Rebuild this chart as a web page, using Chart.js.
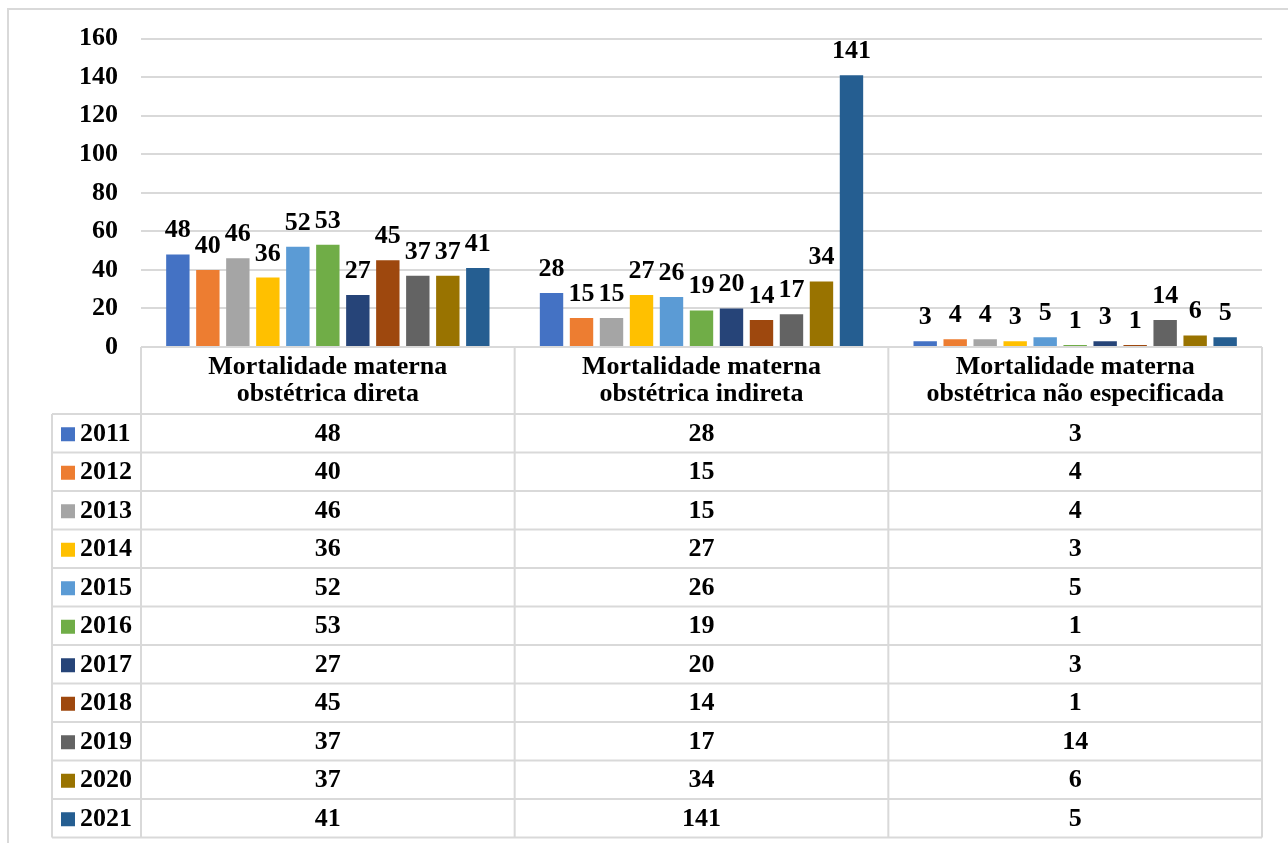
<!DOCTYPE html>
<html>
<head>
<meta charset="utf-8">
<script src="https://cdn.jsdelivr.net/npm/chart.js@4"></script>
<style>
  html, body { margin: 0; padding: 0; background: #fff; }
  canvas { display: block; }
</style>
</head>
<body>
<canvas id="chart" width="1288" height="843"></canvas>
<script>
// Chart values
const categories = [
    ['Mortalidade materna', 'obstétrica direta'],
    ['Mortalidade materna', 'obstétrica indireta'],
    ['Mortalidade materna', 'obstétrica não especificada']
];
const years = ['2011', '2012', '2013', '2014', '2015', '2016', '2017', '2018', '2019', '2020', '2021'];
const direta = [48, 40, 46, 36, 52, 53, 27, 45, 37, 37, 41];
const indireta = [28, 15, 15, 27, 26, 19, 20, 14, 17, 34, 141];
const naoEspecificada = [3, 4, 4, 3, 5, 1, 3, 1, 14, 6, 5];
const yMin = 0, yMax = 160, yStep = 20;
const colors = ['#4472C4', '#ED7D31', '#A5A5A5', '#FFC000', '#5B9BD5', '#70AD47',
                '#264478', '#9E480E', '#636363', '#997300', '#255E91'];

const FONT = 'bold 26px "Liberation Serif", "Times New Roman", serif';
const LINE = '#d9d9d9';

const datasets = years.map((y, i) => ({
    label: y,
    data: [direta[i], indireta[i], naoEspecificada[i]],
    backgroundColor: colors[i],
    borderWidth: 0,
    barPercentage: 0.78,
    categoryPercentage: 0.883
}));

// value labels above each bar
const barLabels = {
    id: 'barLabels',
    afterDatasetsDraw(chart) {
        const ctx = chart.ctx;
        ctx.save();
        ctx.font = FONT;
        ctx.fillStyle = '#000';
        ctx.textAlign = 'center';
        ctx.textBaseline = 'alphabetic';
        chart.data.datasets.forEach((ds, di) => {
            chart.getDatasetMeta(di).data.forEach((bar, i) => {
                ctx.fillText(String(ds.data[i]), bar.x, bar.y - 17);
            });
        });
        ctx.restore();
    }
};

// Excel style data table under the plot
const dataTable = {
    id: 'dataTable',
    afterDraw(chart) {
        const ctx = chart.ctx;
        const area = chart.chartArea;
        const x = chart.scales.x;
        const colW = area.width / categories.length;
        const headTop = area.bottom;
        const headBottom = 414;
        const rowH = 38.5;
        const legendLeft = 52;
        const bottom = headBottom + years.length * rowH;

        ctx.save();
        // outer frame (left & top visible)
        ctx.strokeStyle = LINE;
        ctx.lineWidth = 2;
        ctx.beginPath();
        ctx.moveTo(8, 850);
        ctx.lineTo(8, 9);
        ctx.lineTo(1300, 9);
        ctx.stroke();

        ctx.beginPath();
        // vertical column lines
        for (let c = 0; c <= categories.length; c++) {
            const lx = area.left + c * colW;
            ctx.moveTo(lx, headTop);
            ctx.lineTo(lx, bottom);
        }
        ctx.moveTo(legendLeft, headBottom);
        ctx.lineTo(legendLeft, bottom);
        // horizontal lines
        ctx.moveTo(area.left, headTop);
        ctx.lineTo(area.right, headTop);
        for (let r = 0; r <= years.length; r++) {
            const ly = headBottom + r * rowH;
            ctx.moveTo(legendLeft, ly);
            ctx.lineTo(area.right, ly);
        }
        ctx.stroke();

        ctx.font = FONT;
        ctx.fillStyle = '#000';
        ctx.textBaseline = 'middle';
        ctx.textAlign = 'center';
        const headMid = (headTop + headBottom) / 2;
        categories.forEach((lines, c) => {
            const cx = x.getPixelForValue(c);
            ctx.fillText(lines[0], cx, headMid - 13);
            ctx.fillText(lines[1], cx, headMid + 14);
        });

        chart.data.datasets.forEach((ds, r) => {
            const cy = headBottom + r * rowH + rowH / 2 + 1;
            ctx.fillStyle = ds.backgroundColor;
            ctx.fillRect(61, cy - 7, 14, 14);
            ctx.fillStyle = '#000';
            ctx.textAlign = 'left';
            ctx.fillText(ds.label, 80, cy);
            ctx.textAlign = 'center';
            ds.data.forEach((v, c) => {
                ctx.fillText(String(v), x.getPixelForValue(c), cy);
            });
        });
        ctx.restore();
    }
};

new Chart(document.getElementById('chart'), {
    type: 'bar',
    data: {
        labels: categories.map(c => c.join(' ')),
        datasets: datasets
    },
    options: {
        responsive: false,
        animation: false,
        layout: { padding: { top: 37, right: 26, bottom: 496, left: 0 } },
        plugins: {
            legend: { display: false },
            tooltip: { enabled: false }
        },
        scales: {
            x: { display: false },
            y: {
                min: yMin,
                max: yMax,
                afterFit(scale) { scale.width = 141; },
                border: { display: false },
                grid: { color: LINE, lineWidth: 2, drawTicks: false },
                ticks: {
                    stepSize: yStep,
                    padding: 23,
                    color: '#000',
                    font: { family: '"Liberation Serif", "Times New Roman", serif', size: 26, weight: 'bold' }
                }
            }
        }
    },
    plugins: [barLabels, dataTable]
});
</script>
</body>
</html>
